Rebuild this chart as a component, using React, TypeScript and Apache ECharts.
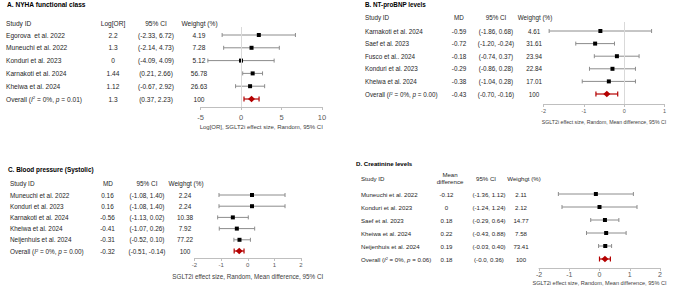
import React, { useEffect, useRef } from "react";
import * as echarts from "echarts";

// ---------- Panel A: NYHA functional class ----------
const studiesA = ["Egorova  et al. 2022", "Muneuchi et al. 2022", "Konduri et al. 2023", "Karnakoti et al. 2024", "Kheiwa et al. 2024"];
const estA = [2.2, 1.3, 0, 1.44, 1.12];
const lowA = [-2.33, -2.14, -4.09, 0.21, -0.67];
const highA = [6.72, 4.73, 4.09, 2.66, 2.92];
const weightA = ["4.19", "7.28", "5.12", "56.78", "26.63"];
const overallA = { est: 1.3, low: 0.37, high: 2.23, weight: "100", i2: "0%", p: "0.01" };
const ticksA = { min: -5, max: 10, interval: 5 };

// ---------- Panel B: NT-proBNP levels ----------
const studiesB = ["Karnakoti et al. 2024", "Saef et al. 2023", "Fusco et al.. 2024", "Konduri et al. 2023", "Kheiwa et al. 2024"];
const estB = [-0.59, -0.72, -0.18, -0.29, -0.38];
const lowB = [-1.86, -1.2, -0.74, -0.86, -1.04];
const highB = [0.68, -0.24, 0.37, 0.28, 0.28];
const weightB = ["4.61", "31.61", "23.94", "22.84", "17.01"];
const overallB = { est: -0.43, low: -0.7, high: -0.16, weight: "100", i2: "0%", p: "0.00" };
const ticksB = { min: -2, max: 1, interval: 1 };

// ---------- Panel C: Blood pressure (Systolic) ----------
const studiesC = ["Muneuchi et al. 2022", "Konduri et al. 2023", "Karnakoti et al. 2024", "Kheiwa et al. 2024", "Neijenhuis et al. 2024"];
const estC = [0.16, 0.16, -0.56, -0.41, -0.31];
const lowC = [-1.08, -1.08, -1.13, -1.07, -0.52];
const highC = [1.4, 1.4, 0.02, 0.26, 0.1];
const weightC = ["2.24", "2.24", "10.38", "7.92", "77.22"];
const overallC = { est: -0.32, low: -0.51, high: -0.14, weight: "100", i2: "0%", p: "0.00" };
const ticksC = { min: -2, max: 2, interval: 1 };

// ---------- Panel D: Creatinine levels ----------
const studiesD = ["Muneuchi et al. 2022", "Konduri et al. 2023", "Saef et al. 2023", "Kheiwa et al. 2024", "Neijenhuis et al. 2024"];
const estD = [-0.12, 0, 0.18, 0.22, 0.19];
const lowD = [-1.36, -1.24, -0.29, -0.43, -0.03];
const highD = [1.12, 1.24, 0.64, 0.88, 0.4];
const weightD = ["2.11", "2.12", "14.77", "7.58", "73.41"];
const overallD = { est: 0.18, low: -0.0, high: 0.36, weight: "100", i2: "0%", p: "0.06", lowText: "-0.0" };
const ticksD = { min: -2, max: 2, interval: 1 };

const FONT = "'Liberation Sans', Arial, sans-serif";
const TEXT = "#262626";
const GRAY = "#8c8c8c";
const RED = "#b40000";

type Overall = { est: number; low: number; high: number; weight: string; i2: string; p: string; lowText?: string };

const fmt = (v: number) => v.toFixed(2);
const fmtEst = (v: number) => String(v);

const panels = [
  {
    title: "A. NYHA functional class",
    effHeader: ["Log[OR]"],
    studies: studiesA, est: estA, low: lowA, high: highA, weight: weightA, overall: overallA as Overall, ticks: ticksA,
    axisName: "Log[OR], SGLT2i effect size, Random, 95% CI",
    zero: true,
    L: { x0: 200.5, x1: 322, rowTop: 35, step: 12.8, axisY: 107, lineTop: 27, titleX: 7, titleY: 4.5, headY: 23, studyX: 6,
      estX: 113, ciX: 156, wX: 199, hEstX: 113, hCiX: 156, hWX: 199.5, fs: 6.6, tickFs: 7.5, nameFs: 6, nameGap: 17, labMargin: 6 },
  },
  {
    title: "B. NT-proBNP levels",
    effHeader: ["MD"],
    studies: studiesB, est: estB, low: lowB, high: highB, weight: weightB, overall: overallB as Overall, ticks: ticksB,
    axisName: "SGLT2i effect size, Random, Mean difference, 95% CI",
    zero: true,
    L: { x0: 543.5, x1: 664.5, rowTop: 31, step: 12.6, axisY: 104, lineTop: 22, titleX: 365, titleY: 4.7, headY: 17.5, studyX: 365,
      estX: 459, ciX: 496, wX: 534, hEstX: 459, hCiX: 496, hWX: 535, fs: 6.3, tickFs: 5.5, nameFs: 5.2, nameGap: 15, labMargin: 4 },
  },
  {
    title: "C. Blood pressure (Systolic)",
    effHeader: ["MD"],
    studies: studiesC, est: estC, low: lowC, high: highC, weight: weightC, overall: overallC as Overall, ticks: ticksC,
    axisName: "SGLT2i effect size, Random, Mean difference, 95% CI",
    zero: false,
    L: { x0: 194.5, x1: 301, rowTop: 195, step: 11.2, axisY: 258, lineTop: 188, titleX: 8, titleY: 169, headY: 183, studyX: 10,
      estX: 107.5, ciX: 147, wX: 185, hEstX: 108, hCiX: 147, hWX: 186, fs: 6.4, tickFs: 6, nameFs: 6.3, nameGap: 15, labMargin: 4 },
  },
  {
    title: "D. Creatinine levels",
    effHeader: ["Mean", "difference"],
    studies: studiesD, est: estD, low: lowD, high: highD, weight: weightD, overall: overallD as Overall, ticks: ticksD,
    axisName: "SGLT2i effect size, Random, Mean difference, 95% CI",
    zero: false,
    L: { x0: 539, x1: 660, rowTop: 194, step: 13, axisY: 268, lineTop: 185, titleX: 356, titleY: 163, headY: 178, studyX: 361,
      estX: 446.5, ciX: 489, wX: 521, hEstX: 450, hCiX: 486, hWX: 524, fs: 6.1, tickFs: 7, nameFs: 5.6, nameGap: 12, labMargin: 3 },
  },
];

function txt(x: number, y: number, text: string, fs: number, align = "left", extra: any = {}) {
  return {
    type: "text",
    x,
    y,
    silent: true,
    style: {
      text,
      fontSize: fs,
      fontFamily: FONT,
      fill: TEXT,
      align,
      textAlign: align,
      verticalAlign: "middle",
      textVerticalAlign: "middle",
      ...extra,
    },
  };
}

function buildOption() {
  const grid: any[] = [];
  const xAxis: any[] = [];
  const yAxis: any[] = [];
  const series: any[] = [];
  const elements: any[] = [];

  panels.forEach((P, k) => {
    const L = P.L;
    const n = P.studies.length;
    grid.push({ left: L.x0, top: L.lineTop, width: L.x1 - L.x0, height: L.axisY - L.lineTop });
    xAxis.push({
      type: "value",
      gridIndex: k,
      min: P.ticks.min,
      max: P.ticks.max,
      interval: P.ticks.interval,
      name: P.axisName,
      nameLocation: "middle",
      nameGap: L.nameGap,
      nameTextStyle: { fontSize: L.nameFs, fontFamily: FONT, color: "#404040" },
      axisLine: { show: true, onZero: false, lineStyle: { color: "#bfbfbf", width: 1 } },
      axisTick: { show: true, length: 3, lineStyle: { color: "#bfbfbf" } },
      axisLabel: { fontSize: L.tickFs, fontFamily: FONT, color: "#595959", margin: L.labMargin },
      splitLine: { show: false },
    });
    yAxis.push({
      type: "value",
      gridIndex: k,
      inverse: true,
      min: (L.lineTop - L.rowTop) / L.step,
      max: (L.axisY - L.rowTop) / L.step,
      show: false,
    });

    const data: any[] = P.studies.map((_, i) => [P.est[i], P.low[i], P.high[i], i, 0]);
    data.push([P.overall.est, P.overall.low, P.overall.high, n, 1]);

    series.push({
      type: "custom",
      xAxisIndex: k,
      yAxisIndex: k,
      clip: false,
      silent: true,
      encode: { x: [0, 1, 2], y: 3 },
      data,
      renderItem: (_params: any, api: any) => {
        const est = api.value(0);
        const lo = api.value(1);
        const hi = api.value(2);
        const row = api.value(3);
        const ov = api.value(4) === 1;
        const c = api.coord([est, row]);
        const pl = api.coord([lo, row]);
        const ph = api.coord([hi, row]);
        const col = ov ? RED : GRAY;
        const cap = ov ? 2.5 : 2;
        const ls = { stroke: col, lineWidth: ov ? 1.2 : 1 };
        const children: any[] = [
          { type: "line", shape: { x1: pl[0], y1: c[1], x2: ph[0], y2: c[1] }, style: ls },
          { type: "line", shape: { x1: pl[0], y1: c[1] - cap, x2: pl[0], y2: c[1] + cap }, style: ls },
          { type: "line", shape: { x1: ph[0], y1: c[1] - cap, x2: ph[0], y2: c[1] + cap }, style: ls },
        ];
        if (ov) {
          children.push({
            type: "polygon",
            shape: { points: [[c[0] - 3.5, c[1]], [c[0], c[1] - 3.2], [c[0] + 3.5, c[1]], [c[0], c[1] + 3.2]] },
            style: { fill: RED },
          });
        } else {
          children.push({ type: "rect", shape: { x: c[0] - 2, y: c[1] - 2, width: 4, height: 4 }, style: { fill: "#000" } });
        }
        return { type: "group", children };
      },
      markLine: P.zero
        ? {
            silent: true,
            symbol: ["none", "none"],
            label: { show: false },
            lineStyle: { color: "#d9d9d9", width: 1, type: "solid" },
            data: [{ xAxis: 0 }],
          }
        : undefined,
    });

    // ---------- table texts ----------
    const fs = L.fs;
    elements.push(txt(L.titleX, L.titleY, P.title, fs, "left", { fontWeight: "bold", fill: "#000" }));
    elements.push(txt(L.studyX, L.headY, "Study ID", fs));
    if (P.effHeader.length === 1) {
      elements.push(txt(L.hEstX, L.headY, P.effHeader[0], fs, "center"));
    } else {
      elements.push(txt(L.hEstX, L.headY - 3.3, P.effHeader[0], fs, "center"));
      elements.push(txt(L.hEstX, L.headY + 3.3, P.effHeader[1], fs, "center"));
    }
    elements.push(txt(L.hCiX, L.headY, "95% CI", fs, "center"));
    elements.push(txt(L.hWX, L.headY, "Weighgt (%)", fs, "center"));

    P.studies.forEach((s, i) => {
      const y = L.rowTop + i * L.step;
      elements.push(txt(L.studyX, y, s, fs));
      elements.push(txt(L.estX, y, fmtEst(P.est[i]), fs, "center"));
      elements.push(txt(L.ciX, y, `(${fmt(P.low[i])}, ${fmt(P.high[i])})`, fs, "center"));
      elements.push(txt(L.wX, y, P.weight[i], fs, "center"));
    });
    const yo = L.rowTop + n * L.step;
    const O = P.overall;
    const rich = {
      i: { fontStyle: "italic", fontSize: fs, fontFamily: FONT, fill: TEXT },
      s: { fontSize: fs * 0.65, fontFamily: FONT, fill: TEXT, verticalAlign: "top" },
      n: { fontSize: fs, fontFamily: FONT, fill: TEXT },
    };
    elements.push(
      txt(L.studyX, yo, `{n|Overall (}{i|I}{s|2}{n| = ${O.i2}, }{i|p}{n| = ${O.p})}`, fs, "left", { rich })
    );
    elements.push(txt(L.estX, yo, fmtEst(O.est), fs, "center"));
    elements.push(txt(L.ciX, yo, `(${O.lowText ?? fmt(O.low)}, ${fmt(O.high)})`, fs, "center"));
    elements.push(txt(L.wX, yo, O.weight, fs, "center"));
  });

  return {
    animation: false,
    backgroundColor: "#ffffff",
    grid,
    xAxis,
    yAxis,
    series,
    graphic: { elements },
  };
}

export default function App() {
  const ref = useRef<HTMLDivElement | null>(null);
  useEffect(() => {
    if (!ref.current) return;
    const chart = echarts.init(ref.current, undefined, { renderer: "svg" });
    chart.setOption(buildOption() as any);
    return () => chart.dispose();
  }, []);
  return <div ref={ref} style={{ position: "fixed", left: 0, top: 0, width: 676, height: 291 }} />;
}
